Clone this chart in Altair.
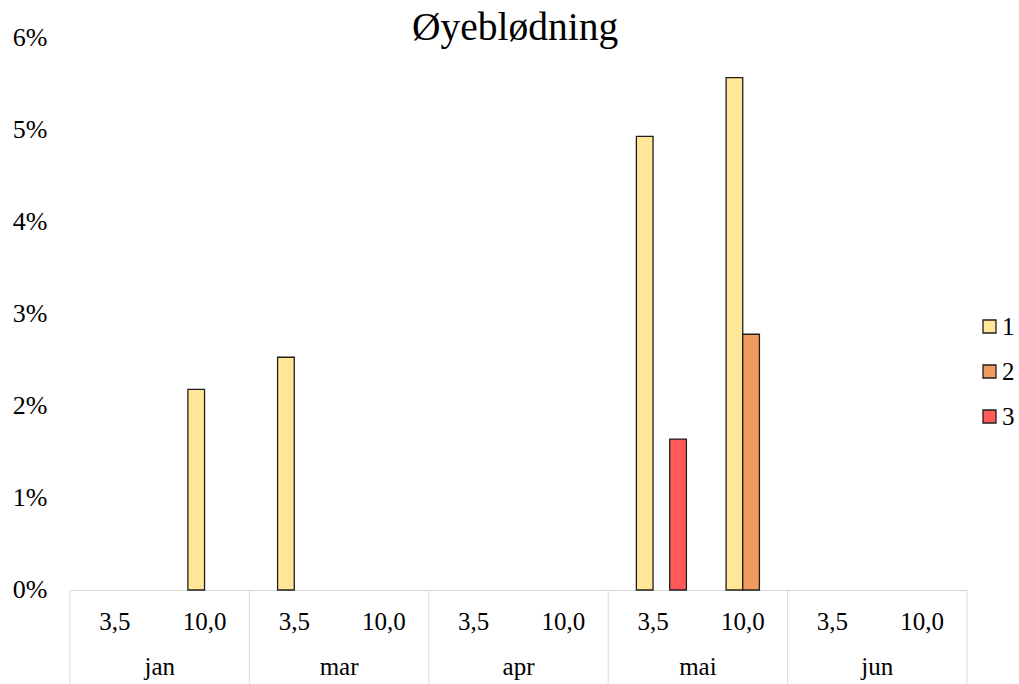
import altair as alt
import pandas as pd

# Categories: month groups with two dose levels each
months = ["jan", "mar", "apr", "mai", "jun"]
doses = ["3,5", "10,0"]
series = ["1", "2", "3"]
series_colors = ["#FFE699", "#F19B5E", "#FF5959"]

# Non-zero bars (share of patients)
bar_month = ["jan", "mar", "mai", "mai", "mai", "mai"]
bar_dose = ["10,0", "3,5", "3,5", "3,5", "10,0", "10,0"]
bar_series = ["1", "1", "1", "3", "1", "2"]
bar_value = [0.0218, 0.0253, 0.0493, 0.0164, 0.0557, 0.0278]

y_ticks = [0, 0.01, 0.02, 0.03, 0.04, 0.05, 0.06]
title_text = "Øyeblødning"

FONT = "Liberation Serif, Times New Roman, serif"
W, H = 897, 552
GRID = "#D9D9D9"

keys = [f"{m} {d}" for m in months for d in doses]

bars_df = pd.DataFrame({
    "key": [f"{m} {d}" for m, d in zip(bar_month, bar_dose)],
    "serie": bar_series,
    "verdi": bar_value,
})
cats_df = pd.DataFrame({
    "key": keys,
    "dose": [d for m in months for d in doses],
})
months_df = pd.DataFrame({
    "key": [f"{m} {doses[0]}" for m in months],
    "month": months,
})
last_df = pd.DataFrame({"key": [keys[-1]]})
title_df = pd.DataFrame({"t": [title_text]})

x_scale = alt.Scale(domain=keys, paddingInner=0, paddingOuter=0)

bars = alt.Chart(bars_df).mark_bar(
    stroke="#1f1f1f", strokeWidth=1.3
).encode(
    x=alt.X("key:N", scale=x_scale,
            axis=alt.Axis(labels=False, ticks=False, domain=True,
                          domainColor=GRID, domainWidth=1, title=None)),
    xOffset=alt.XOffset("serie:N",
                        scale=alt.Scale(domain=["0", "1", "2", "3"],
                                        paddingInner=0, paddingOuter=0.69)),
    y=alt.Y("verdi:Q",
            scale=alt.Scale(domain=[0, 0.06], nice=False),
            axis=alt.Axis(values=y_ticks, format=".0%", labelFont=FONT,
                          labelFontSize=26, labelColor="black", grid=False,
                          domain=False, ticks=False, labelPadding=23,
                          labelBaseline="middle", labelOffset=-1,
                          title=None)),
    color=alt.Color("serie:N",
                    scale=alt.Scale(domain=series, range=series_colors),
                    legend=alt.Legend(title=None, orient="none",
                                      legendX=907, legendY=276,
                                      symbolType="square", symbolSize=169,
                                      symbolStrokeColor="#1f1f1f",
                                      symbolStrokeWidth=1.3,
                                      labelFont=FONT, labelFontSize=25,
                                      labelColor="black", labelOffset=0,
                                      rowPadding=19, padding=0)),
)

dose_labels = alt.Chart(cats_df).mark_text(
    font=FONT, fontSize=25, color="black", baseline="alphabetic"
).encode(
    x=alt.X("key:N", scale=x_scale),
    y=alt.value(H + 40),
    text="dose:N",
)

month_labels = alt.Chart(months_df).mark_text(
    font=FONT, fontSize=25, color="black", baseline="alphabetic"
).encode(
    x=alt.X("key:N", scale=x_scale, bandPosition=1),
    y=alt.value(H + 85),
    text="month:N",
)

month_edges = alt.Chart(months_df).mark_rule(color=GRID, strokeWidth=1).encode(
    x=alt.X("key:N", scale=x_scale, bandPosition=0),
    y=alt.value(H),
    y2=alt.value(H + 100),
)

right_edge = alt.Chart(last_df).mark_rule(color=GRID, strokeWidth=1).encode(
    x=alt.X("key:N", scale=x_scale, bandPosition=1),
    y=alt.value(H),
    y2=alt.value(H + 100),
)

title = alt.Chart(title_df).mark_text(
    font=FONT, fontSize=39.5, color="black", baseline="alphabetic"
).encode(
    x=alt.value(445),
    y=alt.value(2),
    text="t:N",
)

chart = alt.layer(
    month_edges, right_edge, bars, dose_labels, month_labels, title
).properties(
    width=W, height=H,
    autosize=alt.AutoSizeParams(type="none"),
    padding={"left": 70, "top": 38, "right": 52, "bottom": 94},
    background="white",
).configure_view(stroke=None)

chart.save("out.html", embed_options={"renderer": "svg", "actions": False})
